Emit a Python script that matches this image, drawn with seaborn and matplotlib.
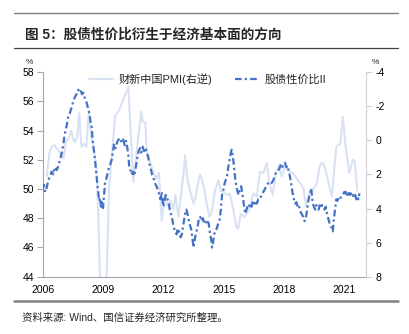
import matplotlib
matplotlib.use("Agg")
import matplotlib.pyplot as plt
from matplotlib.lines import Line2D
import seaborn as sns
import pandas as pd

# ---------------- data ----------------
title = "图 5：股债性价比衍生于经济基本面的方向"
source = "资料来源: Wind、国信证券经济研究所整理。"
label_pmi = "财新中国PMI(右逆)"
label_ratio = "股债性价比II"
x_ticks = [2006, 2009, 2012, 2015, 2018, 2021]
left_ticks = [44, 46, 48, 50, 52, 54, 56, 58]
right_ticks = [-4, -2, 0, 2, 4, 6, 8]

pmi_t = [2006.20, 2006.35, 2006.46, 2006.60, 2006.80, 2006.95,
         2007.04, 2007.16, 2007.28, 2007.42, 2007.52, 2007.60, 2007.72, 2007.82, 2007.92,
         2008.05, 2008.17, 2008.29, 2008.42, 2008.52, 2008.62, 2008.70, 2008.78, 2008.87, 2008.95,
         2009.05, 2009.13, 2009.20, 2009.30, 2009.45, 2009.60, 2009.70, 2009.80,
         2010.00, 2010.26, 2010.38, 2010.51, 2010.60, 2010.75, 2010.90, 2010.98,
         2011.10, 2011.17, 2011.30, 2011.50, 2011.65, 2011.78, 2011.92,
         2012.08, 2012.17, 2012.25, 2012.35, 2012.50, 2012.60, 2012.75, 2012.88,
         2013.00, 2013.08, 2013.20, 2013.33, 2013.50, 2013.60, 2013.75, 2013.83, 2013.95,
         2014.05, 2014.16, 2014.29, 2014.40, 2014.57, 2014.74, 2014.84, 2014.98,
         2015.15, 2015.30, 2015.48, 2015.62, 2015.72, 2015.85,
         2016.02, 2016.28, 2016.48, 2016.65, 2016.81, 2016.98,
         2017.14, 2017.27, 2017.44, 2017.60, 2017.75, 2017.89,
         2018.05, 2018.27, 2018.45, 2018.64, 2018.80, 2018.97,
         2019.10, 2019.30, 2019.47, 2019.63, 2019.76, 2019.88,
         2020.00, 2020.38, 2020.60, 2020.80, 2020.93,
         2021.05, 2021.25, 2021.42, 2021.52, 2021.65]
pmi_v = [50.9, 52.6, 52.9, 53.0, 52.6, 52.3,
         52.1, 53.3, 53.4, 54.0, 53.4, 53.2, 53.6, 55.2, 52.9,
         53.1, 52.9, 55.3, 53.6, 53.0, 52.0, 50.8, 47.7, 42.5, 40.9,
         41.2, 42.2, 45.1, 50.0, 52.5, 55.0, 55.2, 55.4,
         56.1, 57.0, 53.8, 50.5, 51.6, 53.5, 55.3, 54.6,
         54.6, 52.6, 52.0, 51.2, 50.7, 51.1, 47.8,
         49.5, 49.0, 48.8, 49.2, 48.6, 49.6, 48.1, 49.6,
         51.0, 52.3, 50.6, 49.9, 49.0, 49.4, 50.6, 51.0, 50.5,
         49.9, 49.0, 48.1, 48.4, 49.9, 50.6, 49.9, 49.8,
         49.6, 49.7, 48.6, 47.4, 47.3, 48.3,
         48.1, 48.6, 49.7, 49.5, 51.2, 51.1,
         51.8, 50.4, 49.6, 51.1, 51.6, 50.85,
         51.5, 51.2, 51.1, 50.7, 50.4, 50.06,
         48.8, 49.9, 50.0, 50.4, 51.5, 51.8,
         51.65, 49.5, 52.9, 53.1, 54.96,
         53.1, 51.1, 52.0, 51.9, 49.9]

ratio_t = [2006.00, 2006.06, 2006.12, 2006.20, 2006.28, 2006.36, 2006.45, 2006.53, 2006.60, 2006.70, 2006.78, 2006.90, 2006.97,
           2007.03, 2007.08, 2007.13, 2007.20, 2007.27, 2007.35, 2007.44, 2007.52, 2007.60, 2007.68, 2007.77, 2007.83, 2007.90, 2007.96,
           2008.02, 2008.10, 2008.19, 2008.26, 2008.32, 2008.38, 2008.44, 2008.48, 2008.52, 2008.56, 2008.60, 2008.65, 2008.69, 2008.73, 2008.77, 2008.81, 2008.85, 2008.90, 2008.95,
           2009.00, 2009.05, 2009.10, 2009.18, 2009.26, 2009.34, 2009.43, 2009.50, 2009.55, 2009.62, 2009.70, 2009.78, 2009.85, 2009.92,
           2010.00, 2010.08, 2010.14, 2010.20, 2010.26, 2010.30, 2010.36, 2010.42, 2010.48, 2010.55, 2010.62, 2010.70, 2010.77, 2010.84, 2010.90, 2010.97,
           2011.04, 2011.10, 2011.17, 2011.24, 2011.30, 2011.37, 2011.44, 2011.50, 2011.58, 2011.66, 2011.74, 2011.80, 2011.86, 2011.92,
           2012.00, 2012.06, 2012.12, 2012.17, 2012.25, 2012.32, 2012.42, 2012.50, 2012.58, 2012.66, 2012.72, 2012.80, 2012.86, 2012.92,
           2013.00, 2013.08, 2013.15, 2013.22, 2013.30, 2013.38, 2013.45, 2013.50, 2013.55, 2013.62, 2013.69, 2013.76, 2013.83, 2013.90, 2013.97,
           2014.04, 2014.10, 2014.18, 2014.26, 2014.32, 2014.38, 2014.42, 2014.46, 2014.52, 2014.58, 2014.66, 2014.74, 2014.80, 2014.86, 2014.92, 2014.98,
           2015.05, 2015.10, 2015.17, 2015.23, 2015.28, 2015.32, 2015.36, 2015.40, 2015.44, 2015.48, 2015.52, 2015.57, 2015.62, 2015.68, 2015.74, 2015.80, 2015.87, 2015.93, 2015.98,
           2016.03, 2016.08, 2016.14, 2016.20, 2016.26, 2016.31, 2016.38, 2016.45, 2016.52, 2016.58, 2016.65, 2016.72, 2016.81, 2016.88, 2016.97,
           2017.05, 2017.14, 2017.22, 2017.31, 2017.38, 2017.47, 2017.53, 2017.60, 2017.68, 2017.77, 2017.85, 2017.92,
           2018.00, 2018.05, 2018.12, 2018.18, 2018.24, 2018.30, 2018.35, 2018.39, 2018.43, 2018.47, 2018.51, 2018.55, 2018.62, 2018.68, 2018.74, 2018.80, 2018.88, 2018.96,
           2019.02, 2019.07, 2019.12, 2019.18, 2019.24, 2019.30, 2019.35, 2019.39, 2019.43, 2019.49, 2019.55, 2019.60, 2019.66, 2019.72, 2019.78, 2019.84, 2019.90, 2019.96,
           2020.02, 2020.08, 2020.13, 2020.18, 2020.22, 2020.28, 2020.33, 2020.38, 2020.43, 2020.47, 2020.52, 2020.56, 2020.60, 2020.66, 2020.72, 2020.78, 2020.85, 2020.93,
           2021.00, 2021.05, 2021.09, 2021.15, 2021.20, 2021.26, 2021.32, 2021.38, 2021.42, 2021.48, 2021.54, 2021.60, 2021.65, 2021.70, 2021.75]
ratio_v = [2.86, 2.60, 3.03, 2.77, 2.34, 2.09, 1.83, 2.00, 1.57, 1.74, 1.49, 0.97, 0.63,
           0.20, -0.23, -0.57, -0.91, -1.43, -1.60, -1.94, -2.29, -2.54, -2.71, -2.97, -2.80, -2.89, -2.71,
           -2.80, -2.46, -2.20, -1.86, -1.60, -1.09, -0.74, -0.06, 0.37, 0.71, 1.14, 1.74, 2.17, 2.69, 3.11, 3.54, 3.37, 3.89, 3.63,
           3.97, 3.20, 2.51, 2.17, 1.74, 1.49, 1.14, 0.63, 0.20, 0.46, 0.11, -0.06, -0.14, 0.11,
           -0.06, 0.29, 0.03, 0.37, 0.89, 1.49, 1.74, 2.00, 1.83, 2.09, 1.66, 1.06, 0.63, 0.46, 0.71, 0.37,
           0.63, 0.46, 0.63, 0.97, 1.31, 1.66, 2.00, 2.17, 2.51, 2.69, 2.94, 3.20, 3.46, 3.03,
           3.89, 3.54, 3.20, 3.37, 3.54, 4.06, 4.49, 5.00, 5.34, 5.51, 5.17, 5.43, 5.69, 5.51,
           4.91, 4.31, 4.06, 4.40, 4.91, 5.17, 5.77, 6.29, 5.94, 5.43, 5.17, 4.66, 4.49, 4.74, 4.57,
           4.91, 4.83, 4.66, 4.91, 5.43, 5.86, 6.29, 6.11, 5.60, 5.26, 5.17, 4.83, 4.66, 4.06, 3.20, 2.94,
           2.51, 2.34, 2.09, 1.57, 1.23, 0.97, 0.71, 0.54, 0.80, 1.14, 1.66, 2.17, 2.60, 2.94, 3.20, 2.94, 2.69, 3.11, 3.54,
           3.97, 4.31, 4.06, 3.80, 3.89, 3.71, 3.89, 3.63, 3.80, 3.54, 3.71, 3.46, 3.46, 3.20, 3.03,
           2.86, 2.60, 2.51, 2.43, 2.51, 2.34, 2.09, 1.91, 1.83, 1.66, 1.40, 1.57,
           1.31, 1.31, 1.57, 1.49, 1.83, 2.13, 2.51, 2.81, 3.11, 3.29, 3.54, 3.71, 3.63, 3.89, 3.80, 4.14, 4.31, 4.49,
           4.74, 4.66, 4.31, 3.80, 3.37, 3.11, 2.81, 3.20, 3.71, 3.89, 4.06, 3.80, 3.89, 4.06, 3.80, 3.97, 3.80, 3.89,
           4.06, 3.89, 4.23, 4.49, 4.66, 4.91, 5.00, 5.17, 5.34, 4.74, 4.23, 3.80, 3.46, 3.54, 3.37, 3.46, 3.29, 3.20,
           3.03, 3.11, 2.94, 3.20, 3.03, 3.20, 3.11, 3.29, 3.20, 3.37, 3.20, 3.46, 3.29, 3.46, 3.11]

# ---------------- style ----------------
sns.set_style("white")
plt.rcParams["font.family"] = ["Liberation Sans", "Noto Sans CJK SC", "DejaVu Sans"]
plt.rcParams["axes.unicode_minus"] = False

light_col = "#D9E2F3"
dark_col = "#4472C4"
spine_col = "#A6A6A6"
dash_pat = (0, (3, 1.4, 1, 1.4))

fig = plt.figure(figsize=(4.09, 3.34), dpi=100)
ax = fig.add_axes([0.1044, 0.1716, 0.790, 0.612])
ax2 = ax.twinx()

df_pmi = pd.DataFrame({"t": pmi_t, "v": pmi_v})
df_ratio = pd.DataFrame({"t": ratio_t, "v": ratio_v})

sns.lineplot(data=df_pmi, x="t", y="v", ax=ax, color=light_col, lw=1.5, label=label_pmi, legend=False)
sns.lineplot(data=df_ratio, x="t", y="v", ax=ax2, color=dark_col, lw=1.6, label=label_ratio, legend=False)
for ln in ax2.get_lines():
    ln.set_linestyle(dash_pat)

ax.set_xlim(2006, 2022.07)
ax.set_ylim(44, 58)
ax2.set_ylim(8, -4)
ax.set_xticks(x_ticks)
ax.set_xticklabels([str(x) for x in x_ticks])
ax.set_yticks(left_ticks)
ax2.set_yticks(right_ticks)
for a in (ax, ax2):
    a.set_xlabel("")
    a.set_ylabel("")
    a.tick_params(labelsize=7.5, colors="#000000", length=4, width=0.8)
    a.spines["top"].set_visible(False)
ax.spines["right"].set_visible(False)
ax.spines["left"].set_color(spine_col)
ax.spines["bottom"].set_color(spine_col)
ax2.spines["left"].set_visible(False)
ax2.spines["bottom"].set_visible(False)
ax2.spines["right"].set_color("#D0D0D0")
ax.tick_params(axis="both", color=spine_col, pad=2)
ax2.tick_params(axis="y", color="#D0D0D0", pad=3)

h1 = Line2D([], [], color=light_col, lw=1.5)
h2 = Line2D([], [], color=dark_col, lw=1.6, linestyle=dash_pat)
ax.legend([h1, h2], [label_pmi, label_ratio], loc="upper center", bbox_to_anchor=(0.51, 1.045),
          ncol=2, frameon=False, fontsize=8, handlelength=2.2, columnspacing=2.0, handletextpad=0.5)

fig.text(26 / 409, 1 - 63 / 334, "%", fontsize=6, ha="left", va="center")
fig.text(372 / 409, 1 - 63 / 334, "%", fontsize=6, ha="left", va="center")

fig.text(25 / 409, 1 - 35 / 334, title, fontsize=9.8, fontweight="bold", ha="left", va="center")
fig.text(22 / 409, 1 - 318 / 334, source, fontsize=7.5, ha="left", va="center")

fig.add_artist(Line2D([14 / 409, 398 / 409], [1 - 13.3 / 334, 1 - 13.3 / 334], color="#808080", lw=1.0))
fig.add_artist(Line2D([14 / 409, 398 / 409], [1 - 48.3 / 334, 1 - 48.3 / 334], color="#404040", lw=0.9))
fig.add_artist(Line2D([14 / 409, 398 / 409], [1 - 300.7 / 334, 1 - 300.7 / 334], color="#808080", lw=1.8))

fig.savefig("out.png", dpi=100)
